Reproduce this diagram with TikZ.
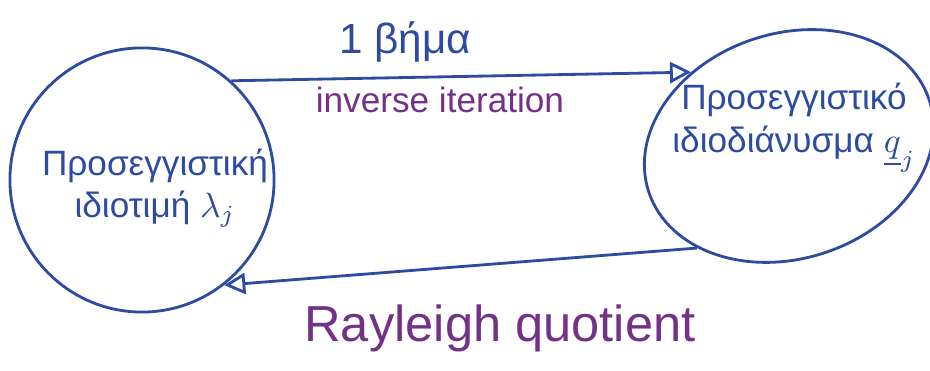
\documentclass[tikz,border=0pt]{standalone}
\usepackage{fontspec}
\setmainfont{Liberation Sans}
\usetikzlibrary{shapes.geometric,arrows.meta}
\definecolor{ink}{RGB}{45,75,160}
\definecolor{pink}{RGB}{115,50,135}
\begin{document}
\begin{tikzpicture}[
  x=0.01cm, y=-0.01cm,
  blob/.style={draw=ink, line width=0.8pt},
  txt/.style={text=ink, align=center, inner sep=1pt},
  link/.style={draw=ink, line width=0.8pt, -{Triangle[open, length=6pt, width=6pt]}},
  lbl/.style={text=pink, inner sep=1pt}
]
  \useasboundingbox (0,0) rectangle (930,371);

  % the two states
  \node[blob, circle, minimum size=2.64cm] (eigval) at (142,180) {};
  \node[blob, ellipse, minimum width=2.95cm, minimum height=2.25cm, rotate=18] (eigvec) at (789,146) {};
  \node[txt] (valtxt) at (155,188) {Προσεγγιστική\\ιδιοτιμή $\lambda_j$};
  \node[txt] (vectxt) at (794,128) {Προσεγγιστικό\\ιδιοδιάνυσμα $\underline{q}_j$};

  % the two steps
  \draw[link] (eigval.48.5) -- (eigvec.125);
  \draw[link] (eigvec.210) -- (eigval.-52);
  \node[txt, font=\large] (step) at (405,42) {1 βήμα};
  \node[lbl] (inv) at (440,100) {inverse iteration};
  \node[lbl, font=\Large] (rq) at (500,328) {Rayleigh quotient};
\end{tikzpicture}
\end{document}
